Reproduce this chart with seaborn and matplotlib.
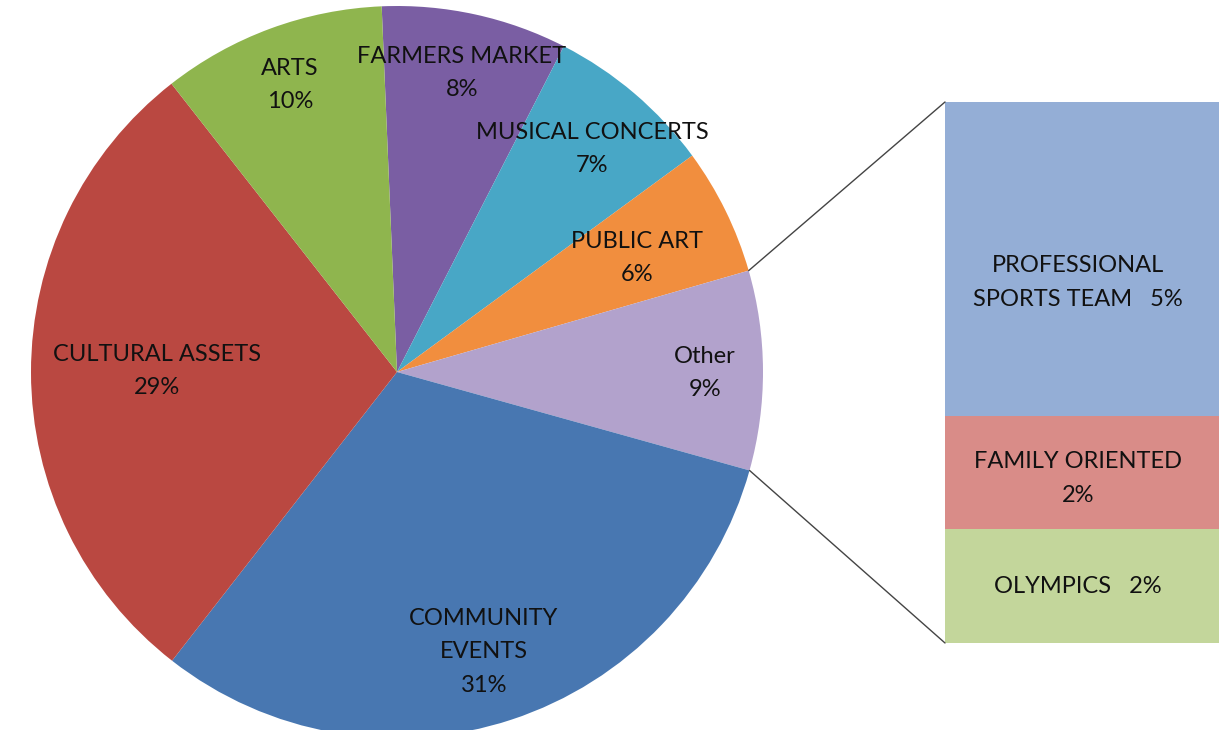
import numpy as np
import matplotlib
matplotlib.use('Agg')
import matplotlib.pyplot as plt
import seaborn as sns

# pie slices, clockwise from 12 o'clock
slice_names = ['FARMERS MARKET', 'MUSICAL CONCERTS', 'PUBLIC ART', 'Other',
               'COMMUNITY\nEVENTS', 'CULTURAL ASSETS', 'ARTS']
slice_pct = ['8%', '7%', '6%', '9%', '31%', '29%', '10%']
slice_values = [8.2, 7.4, 5.6, 8.8, 31.2, 28.9, 9.9]
slice_colors = ['#7A5EA3', '#48A7C6', '#F18E3E', '#B2A2CC',
                '#4877B1', '#BA4841', '#8FB54E']

# breakdown of "Other" (top to bottom)
other_names = ['PROFESSIONAL\nSPORTS TEAM   5%', 'FAMILY ORIENTED\n2%', 'OLYMPICS   2%']
other_values = [5.1, 1.85, 1.85]
other_colors = ['#94AED6', '#D98C88', '#C3D69B']

W, H = 1226, 730
sns.set_style("white")
plt.rcParams['font.family'] = ['Lato', 'DejaVu Sans']

fig = plt.figure(figsize=(W / 100, H / 100), dpi=100)
ax = fig.add_axes([0, 0, 1, 1])

cx, cy, r = 397, H - 372, 366
start = 92.4
ax.pie(slice_values, colors=slice_colors, startangle=start, counterclock=False,
       radius=r, center=(cx, cy), wedgeprops=dict(linewidth=0))

# label positions (pixel coords, y from top)
label_pos = [(462, 73), (592, 149), (637, 258), (705, 373),
             (484, 652), (157, 371), (290, 85)]
for name, pct, (x, y) in zip(slice_names, slice_pct, label_pos):
    ax.text(x, H - y, f"{name}\n{pct}", ha='center', va='center',
            fontsize=17, linespacing=1.75, color='#111111')

# stacked bar for the "Other" breakdown
bx0, bx1, by_top, by_bot = 945, 1219, 102, 643
label_shift = [24, 6, 0]  # px the bar labels sit below segment centre
scale = (by_bot - by_top) / sum(other_values)
bottom = H - by_bot
bar_mid = []
for name, v, c, dy in reversed(list(zip(other_names, other_values,
                                        other_colors, label_shift))):
    ax.bar((bx0 + bx1) / 2, v * scale, width=bx1 - bx0, bottom=bottom,
           color=c, linewidth=0)
    bar_mid.append((name, bottom + v * scale / 2 - dy))
    bottom += v * scale
for name, ym in bar_mid:
    ax.text((bx0 + bx1) / 2 - 4, ym, name, ha='center', va='center',
            fontsize=17, linespacing=1.75, color='#111111')

# connector lines from the "Other" wedge edges to the bar corners
cum = np.cumsum([0] + slice_values) / sum(slice_values) * 360
a_top = np.radians(start - cum[3])
a_bot = np.radians(start - cum[4])
ax.plot([cx + r * np.cos(a_top), bx0], [cy + r * np.sin(a_top), H - by_top],
        color='#444444', lw=1)
ax.plot([cx + r * np.cos(a_bot), bx0], [cy + r * np.sin(a_bot), H - by_bot],
        color='#444444', lw=1)

ax.set_xlim(0, W)
ax.set_ylim(0, H)
ax.set_aspect('equal')
ax.axis('off')

fig.savefig('out.png', dpi=100)
